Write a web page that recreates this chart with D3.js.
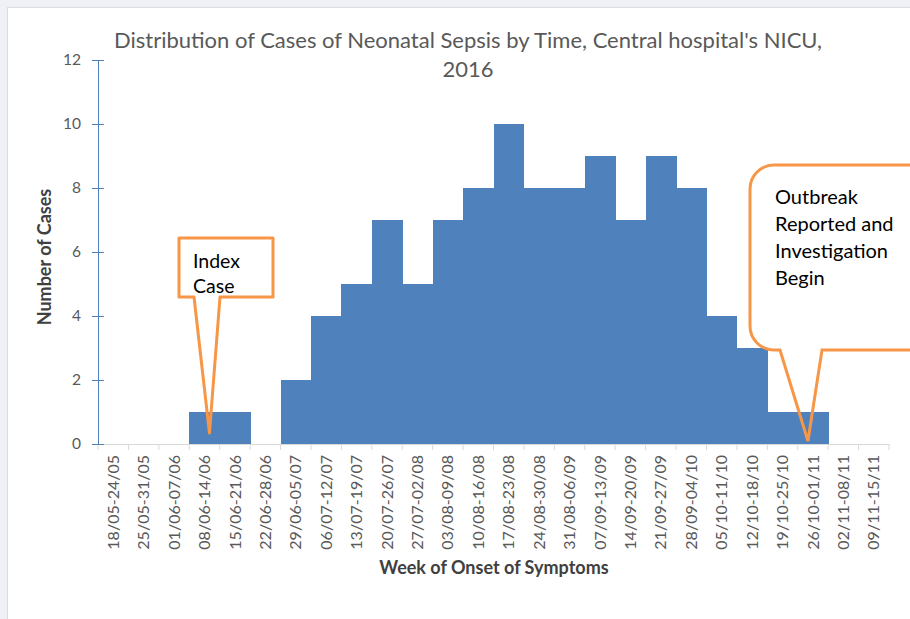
<!DOCTYPE html>
<html>
<head>
<meta charset="utf-8">
<script src="https://cdn.jsdelivr.net/npm/d3@7"></script>
<style>
  body { margin: 0; background: #eff0f5; }
  #chart { position: absolute; left: 0; top: 0; }
</style>
</head>
<body>
<div id="chart"></div>
<script>
// weeks of onset (x categories)
const weeks = ["18/05-24/05", "25/05-31/05", "01/06-07/06", "08/06-14/06", "15/06-21/06",
  "22/06-28/06", "29/06-05/07", "06/07-12/07", "13/07-19/07", "20/07-26/07", "27/07-02/08",
  "03/08-09/08", "10/08-16/08", "17/08-23/08", "24/08-30/08", "31/08-06/09", "07/09-13/09",
  "14/09-20/09", "21/09-27/09", "28/09-04/10", "05/10-11/10", "12/10-18/10", "19/10-25/10",
  "26/10-01/11", "02/11-08/11", "09/11-15/11"];
const cases = [0, 0, 0, 1, 1, 0, 2, 4, 5, 7, 5, 7, 8, 10, 8, 8, 9, 7, 9, 8, 4, 3, 1, 1, 0, 0];
const yTicks = [0, 2, 4, 6, 8, 10, 12];

const titleLines = ["Distribution of Cases of Neonatal Sepsis by Time, Central hospital's NICU,", "2016"];
const indexLines = ["Index", "Case"];
const outbreakLines = ["Outbreak", "Reported and", "Investigation", "Begin"];
const indexWeek = "08/06-14/06";
const outbreakWeek = "26/10-01/11";

const W = 910, H = 619;
const font = "Lato, 'Open Sans', sans-serif";

svg = d3.select("#chart").append("svg")
  .attr("width", W)
  .attr("height", H);

// panel
svg.append("rect")
  .attr("x", 7.5).attr("y", 7.5)
  .attr("width", W).attr("height", H)
  .attr("fill", "#fff")
  .attr("stroke", "#dcdce0");

const xScale = d3.scaleBand()
  .domain(weeks)
  .range([98, 889])
  .padding(0);

const yScale = d3.scaleLinear()
  .domain([0, 12])
  .range([444, 60]);

// bars
svg.selectAll("rect.bar")
  .data(cases)
  .enter()
  .append("rect")
  .attr("class", "bar")
  .attr("x", (d, i) => xScale(weeks[i]))
  .attr("y", d => yScale(d))
  .attr("width", xScale.bandwidth() + 0.5)
  .attr("height", d => yScale(0) - yScale(d))
  .attr("fill", "#4f81bd")
  .attr("shape-rendering", "crispEdges");

// x axis
const xAxis = d3.axisBottom(xScale)
  .tickSize(6)
  .tickSizeOuter(0);

const gx = svg.append("g")
  .attr("transform", "translate(0, 444)")
  .call(xAxis);
gx.select(".domain").attr("stroke", "#d9d9d9");
// ticks on band edges
gx.selectAll(".tick line").remove();
svg.append("g").selectAll("line")
  .data(weeks.concat(["end"]))
  .enter()
  .append("line")
  .attr("x1", (d, i) => i < weeks.length ? xScale(d) : xScale.range()[1])
  .attr("x2", (d, i) => i < weeks.length ? xScale(d) : xScale.range()[1])
  .attr("y1", 444).attr("y2", 450)
  .attr("stroke", "#d9d9d9");
gx.selectAll(".tick text")
  .attr("transform", "rotate(-90)")
  .attr("x", -11)
  .attr("y", 0)
  .attr("dy", "0.35em")
  .attr("text-anchor", "end")
  .attr("fill", "#595959")
  .style("font-family", font)
  .style("font-size", "16px");

// y axis
const yAxis = d3.axisLeft(yScale)
  .tickValues(yTicks)
  .tickSize(6)
  .tickSizeOuter(0);

const gy = svg.append("g")
  .attr("transform", "translate(98, 0)")
  .call(yAxis);
gy.select(".domain").attr("stroke", "#4f81bd");
gy.selectAll(".tick line").attr("x1", 6).attr("x2", -6).attr("stroke", "#4f81bd");
gy.selectAll(".tick text")
  .attr("x", -17)
  .attr("fill", "#595959")
  .style("font-family", font)
  .style("font-size", "15.5px");

// title
svg.append("g").selectAll("text")
  .data(titleLines)
  .enter()
  .append("text")
  .attr("x", 468)
  .attr("y", (d, i) => 48 + i * 29)
  .attr("text-anchor", "middle")
  .attr("fill", "#595959")
  .style("font-family", font)
  .style("font-size", "22px")
  .text(d => d);

// axis titles
svg.append("text")
  .attr("x", 494).attr("y", 574)
  .attr("text-anchor", "middle")
  .attr("fill", "#404040")
  .style("font-family", font)
  .style("font-size", "18px")
  .style("font-weight", "bold")
  .text("Week of Onset of Symptoms");

svg.append("text")
  .attr("transform", "translate(51, 257) rotate(-90)")
  .attr("text-anchor", "middle")
  .attr("fill", "#404040")
  .style("font-family", font)
  .style("font-size", "18px")
  .style("font-weight", "bold")
  .text("Number of Cases");

// callouts
const orange = "#f79646";

// index case
const tip1 = xScale(indexWeek) + xScale.bandwidth() / 2 + 5;
const p1 = d3.path();
p1.moveTo(179, 238);
p1.lineTo(273, 238);
p1.lineTo(273, 297);
p1.lineTo(220, 297);
p1.lineTo(tip1, yScale(0) - 11);
p1.lineTo(194, 297);
p1.lineTo(179, 297);
p1.closePath();
svg.append("path")
  .attr("d", p1.toString())
  .attr("fill", "none")
  .attr("stroke", orange)
  .attr("stroke-width", 3)
  .attr("stroke-linejoin", "round");

svg.append("g").selectAll("text")
  .data(indexLines)
  .enter()
  .append("text")
  .attr("x", 193)
  .attr("y", (d, i) => 268 + i * 25)
  .attr("fill", "#000")
  .style("font-family", font)
  .style("font-size", "19.5px")
  .text(d => d);

// outbreak reported
const tip2 = xScale(outbreakWeek) + xScale.bandwidth() / 2 - 5;
const r = 24, bx = 750, by = 165, bb = 350, br = 940;
const p2 = d3.path();
p2.moveTo(bx + r, by);
p2.lineTo(br - r, by);
p2.arcTo(br, by, br, by + r, r);
p2.lineTo(br, bb - r);
p2.arcTo(br, bb, br - r, bb, r);
p2.lineTo(822, bb);
p2.lineTo(tip2, yScale(0) - 3);
p2.lineTo(780, bb);
p2.lineTo(bx + r, bb);
p2.arcTo(bx, bb, bx, bb - r, r);
p2.lineTo(bx, by + r);
p2.arcTo(bx, by, bx + r, by, r);
p2.closePath();
svg.append("path")
  .attr("d", p2.toString())
  .attr("fill", "none")
  .attr("stroke", orange)
  .attr("stroke-width", 3);

svg.append("g").selectAll("text")
  .data(outbreakLines)
  .enter()
  .append("text")
  .attr("x", 775)
  .attr("y", (d, i) => 204 + i * 27)
  .attr("fill", "#000")
  .style("font-family", font)
  .style("font-size", "20px")
  .text(d => d);
</script>
</body>
</html>
